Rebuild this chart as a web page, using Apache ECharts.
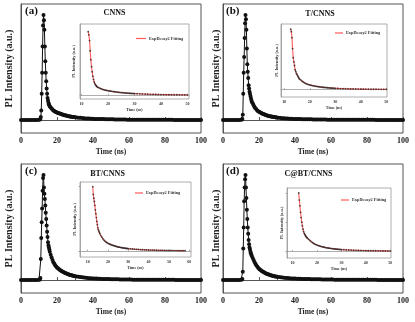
<!DOCTYPE html>
<html><head><meta charset="utf-8">
<script src="https://cdn.jsdelivr.net/npm/echarts@6/dist/echarts.min.js"></script>
<style>html,body{margin:0;padding:0;background:#fff}#c{width:415px;height:322px}</style>
</head><body><div id="c"></div>
<script>
const times = [0,1,2,3,4,5,6,7,8,9,10,
 10.5,10.75,11,11.25,11.5,11.75,12,12.25,12.5,12.75,13,13.25,13.5,13.75,14,14.25,14.5,14.75,15,15.25,15.5,15.75,16,
 16.5,17,17.5,18,18.5,19,19.5,20,20.5,21,21.5,22,22.5,23,23.5,24,24.5,25,25.5,26,26.5,27,27.5,28,28.5,29,29.5,30,
 31,32,33,34,35,36,37,38,39,40,41,42,43,44,45,46,47,48,49,50,
 51,52,53,54,55,56,57,58,59,60,61,62,63,64,65,66,67,68,69,70,
 71,72,73,74,75,76,77,78,79,80,81,82,83,84,85,86,87,88,89,90,
 91,92,93,94,95,96,97,98,99,100];

const cnns = [0,0,0,0,0,0,0,0,0,0,0.002,
 0.005,0.01,0.03,0.09,0.25,0.45,0.70,0.90,1.00,0.95,0.86,0.70,0.56,0.45,0.37,0.30,0.25,0.21,0.185,0.165,0.15,0.14,0.13,
 0.12,0.11,0.10,0.092,0.086,0.080,0.076,0.072,0.068,0.065,0.062,0.059,0.056,0.053,0.050,0.047,0.045,0.043,0.041,0.039,0.037,0.035,0.033,0.032,0.030,0.029,0.028,0.027,
 0.025,0.023,0.021,0.019,0.018,0.016,0.015,0.014,0.013,0.012,0.011,0.011,0.010,0.010,0.009,0.009,0.008,0.008,0.007,0.007,
 0.007,0.006,0.006,0.006,0.005,0.005,0.005,0.005,0.004,0.004,0.004,0.004,0.004,0.004,0.003,0.003,0.003,0.003,0.003,0.003,
 0.003,0.003,0.002,0.002,0.002,0.002,0.002,0.002,0.002,0.002,0.002,0.002,0.002,0.002,0.001,0.001,0.001,0.001,0.001,0.001,
 0.001,0.001,0.001,0.001,0.001,0.001,0.001,0.001,0.001,0.001];

const tCnns = [0,0,0,0,0,0,0,0,0,0,0.002,
 0.005,0.01,0.05,0.25,0.45,0.60,0.78,0.92,1.00,0.96,0.86,0.68,0.53,0.46,0.40,0.33,0.30,0.27,0.25,0.23,0.21,0.19,0.175,
 0.16,0.14,0.125,0.113,0.102,0.092,0.085,0.079,0.074,0.069,0.065,0.061,0.057,0.053,0.050,0.047,0.044,0.041,0.039,0.037,0.035,0.033,0.031,0.029,0.028,0.026,0.025,0.024,
 0.022,0.020,0.018,0.017,0.015,0.014,0.013,0.012,0.011,0.010,0.010,0.009,0.009,0.008,0.008,0.008,0.007,0.007,0.007,0.006,
 0.006,0.006,0.006,0.005,0.005,0.005,0.005,0.004,0.004,0.004,0.004,0.004,0.004,0.003,0.003,0.003,0.003,0.003,0.003,0.003,
 0.003,0.003,0.002,0.002,0.002,0.002,0.002,0.002,0.002,0.002,0.002,0.002,0.002,0.002,0.001,0.001,0.001,0.001,0.001,0.001,
 0.001,0.001,0.001,0.001,0.001,0.001,0.001,0.001,0.001,0.001];

const btCnns = [0,0,0,0,0,0,0,0,0,0,0.002,
 0.005,0.02,0.20,0.40,0.55,0.68,0.85,0.97,1.00,0.88,0.82,0.77,0.71,0.64,0.58,0.52,0.46,0.41,0.36,0.33,0.31,0.29,0.27,
 0.24,0.215,0.19,0.17,0.155,0.14,0.13,0.12,0.112,0.105,0.098,0.092,0.087,0.082,0.077,0.072,0.068,0.064,0.060,0.057,0.054,0.051,0.048,0.045,0.043,0.041,0.039,0.037,
 0.034,0.031,0.028,0.026,0.024,0.022,0.020,0.018,0.017,0.016,0.015,0.014,0.013,0.012,0.011,0.010,0.010,0.009,0.009,0.008,
 0.008,0.007,0.007,0.007,0.006,0.006,0.006,0.005,0.005,0.005,0.005,0.004,0.004,0.004,0.004,0.004,0.003,0.003,0.003,0.003,
 0.003,0.003,0.003,0.002,0.002,0.002,0.002,0.002,0.002,0.002,0.002,0.002,0.002,0.002,0.002,0.001,0.001,0.001,0.001,0.001,
 0.001,0.001,0.001,0.001,0.001,0.001,0.001,0.001,0.001,0.001];

const cbtCnns = [0,0,0,0,0,0,0,0,0,0,0.002,
 0.005,0.01,0.08,0.30,0.50,0.75,0.88,0.96,1.00,0.88,0.78,0.67,0.58,0.50,0.44,0.38,0.34,0.31,0.29,0.27,0.255,0.24,0.23,
 0.21,0.19,0.172,0.155,0.14,0.128,0.117,0.108,0.100,0.093,0.087,0.081,0.076,0.071,0.066,0.062,0.058,0.055,0.052,0.049,0.046,0.043,0.041,0.039,0.037,0.035,0.033,0.031,
 0.029,0.026,0.024,0.022,0.020,0.019,0.017,0.016,0.015,0.014,0.013,0.012,0.012,0.011,0.010,0.010,0.009,0.009,0.008,0.008,
 0.008,0.007,0.007,0.007,0.006,0.006,0.006,0.005,0.005,0.005,0.005,0.004,0.004,0.004,0.004,0.004,0.003,0.003,0.003,0.003,
 0.003,0.003,0.003,0.002,0.002,0.002,0.002,0.002,0.002,0.002,0.002,0.002,0.002,0.002,0.002,0.001,0.001,0.001,0.001,0.001,
 0.001,0.001,0.001,0.001,0.001,0.001,0.001,0.001,0.001,0.001];

const panelLabels = ['(a)','(b)','(c)','(d)'];
const sampleNames = ['CNNS','T/CNNS','BT/CNNS','C@BT/CNNS'];
const mainTicks = [0,20,40,60,80,100];
const insetTicks = [[10,20,30,40,50],[10,20,30,40,50],[10,20,30,40,50,60],[10,20,30,40,50]];
const insetEnd = [50,50,58,50];
const fitName = 'ExpDecay2 Fitting';

const allSeries = [cnns,tCnns,btCnns,cbtCnns];
const FF = 'Liberation Serif';

const mainGrids = [
 {left:21,top:4,width:180,height:129},
 {left:223,top:4,width:180,height:129},
 {left:21,top:164,width:180,height:129},
 {left:223,top:164,width:180,height:129}];
const insetGrids = [
 {left:80,top:24,width:109,height:75},
 {left:281,top:24,width:106,height:73},
 {left:80,top:182,width:111,height:75},
 {left:287,top:188,width:104,height:70}];
const insetX = [[9.4,50.6],[8.7,50.3],[6.2,60.9],[7.7,50.3]];
const insetY = [[-0.058,1.12],[-0.12,1.086],[-0.093,1.073],[-0.113,1.086]];
const insetYGap = [4,2,3,3.5];
const mainYGap = [7,1.5,7,1.5];
const legendPos = [[136,36.5,10],[335,31,8],[135,191,8],[341,198,8]];
const titlePos = [[25,13,114.5,13],[226,13,320,14],[25,173,107.5,174],[226,173,308.5,174]];

const grid=[], xAxis=[], yAxis=[], series=[], legend=[], graphic=[];
for (let p=0;p<4;p++){
  const g = mainGrids[p];
  grid.push(Object.assign({show:true,borderColor:'#555',borderWidth:1,containLabel:false},g));
  xAxis.push({type:'value',gridIndex:grid.length-1,min:0,max:100,interval:20,
    name:'Time (ns)',nameLocation:'middle',nameGap:15,
    nameTextStyle:{fontFamily:FF,fontWeight:'bold',fontSize:7.5,color:'#222'},
    axisLine:{lineStyle:{color:'#555'}},
    axisTick:{inside:true,length:3,lineStyle:{color:'#555'}},
    minorTick:{show:true,splitNumber:2,length:2,lineStyle:{color:'#555'}},
    axisLabel:{fontFamily:FF,fontWeight:'bold',fontSize:8,color:'#222',margin:4},
    splitLine:{show:false}});
  yAxis.push({type:'value',gridIndex:grid.length-1,min:-0.123,max:1.104,
    name:'PL Intensity (a.u.)',nameLocation:'middle',nameGap:mainYGap[p],
    nameTextStyle:{fontFamily:FF,fontWeight:'bold',fontSize:10,color:'#222'},
    axisLine:{show:true,lineStyle:{color:'#555'}},axisTick:{show:false},axisLabel:{show:false},splitLine:{show:false}});
  const vals = allSeries[p];
  const pts = times.map((t,i)=>[t,vals[i]]);
  series.push({type:'line',name:sampleNames[p],xAxisIndex:xAxis.length-1,yAxisIndex:yAxis.length-1,data:pts,
    symbol:'circle',symbolSize:4,showSymbol:true,lineStyle:{color:'#111',width:1},itemStyle:{color:'#111'},
    animation:false,silent:true,z:3});
  const ig = insetGrids[p];
  grid.push(Object.assign({show:true,borderColor:'#999',borderWidth:0.8,backgroundColor:'#fff',containLabel:false},ig));
  xAxis.push({type:'value',gridIndex:grid.length-1,min:insetX[p][0],max:insetX[p][1],
    name:'Time (ns)',nameLocation:'middle',nameGap:9,
    nameTextStyle:{fontFamily:FF,fontWeight:'bold',fontSize:4,color:'#333'},
    axisLine:{lineStyle:{color:'#999',width:0.8}},
    axisTick:{inside:true,length:1.5,customValues:insetTicks[p],lineStyle:{color:'#777',width:0.6}},
    axisLabel:{customValues:insetTicks[p],fontFamily:FF,fontWeight:'bold',fontSize:4,color:'#333',margin:3},
    splitLine:{show:false}});
  yAxis.push({type:'value',gridIndex:grid.length-1,min:insetY[p][0],max:insetY[p][1],
    name:'PL Intensity (a.u.)',nameLocation:'middle',nameGap:insetYGap[p],
    nameTextStyle:{fontFamily:FF,fontWeight:'bold',fontSize:4.2,color:'#333'},
    axisLine:{show:true,lineStyle:{color:'#999',width:0.8}},
    axisTick:{show:p>=2,inside:false,length:1.5,customValues:[0,0.5,1],lineStyle:{color:'#777',width:0.6}},
    axisLabel:{show:false},splitLine:{show:false}});
  const ipts = pts.filter(d=>d[0]>=12.5 && d[0]<=insetEnd[p]);
  series.push({type:'line',name:fitName,xAxisIndex:xAxis.length-1,yAxisIndex:yAxis.length-1,data:ipts,
    smooth:0.3,showSymbol:false,symbol:'none',lineStyle:{color:'#ff5a5a',width:1.1},itemStyle:{color:'#ff5a5a'},
    animation:false,silent:true,z:3});
  series.push({type:'scatter',name:'data'+p,xAxisIndex:xAxis.length-1,yAxisIndex:yAxis.length-1,data:ipts,
    symbol:'circle',symbolSize:1.8,itemStyle:{color:'#222'},animation:false,silent:true,z:4});
  legend.push({data:[fitName],left:legendPos[p][0],top:legendPos[p][1],padding:0,
    itemWidth:legendPos[p][2],itemHeight:1.2,icon:'rect',selectedMode:false,
    textStyle:{fontFamily:FF,fontWeight:'bold',fontSize:4.3,color:'#333',padding:[0,0,0,-2]}});
  const tp = titlePos[p];
  graphic.push({type:'text',left:tp[0],top:tp[1]-7,style:{text:panelLabels[p],font:'bold 11px "Liberation Serif"',fill:'#111'}});
  graphic.push({type:'text',x:tp[2],y:tp[3],style:{text:sampleNames[p],font:'bold 8px "Liberation Serif"',fill:'#111',textAlign:'center',textVerticalAlign:'middle'}});
}

const chart = echarts.init(document.getElementById('c'),null,{renderer:'canvas'});
chart.setOption({animation:false,backgroundColor:'#fff',grid,xAxis,yAxis,series,legend,graphic});
</script></body></html>
